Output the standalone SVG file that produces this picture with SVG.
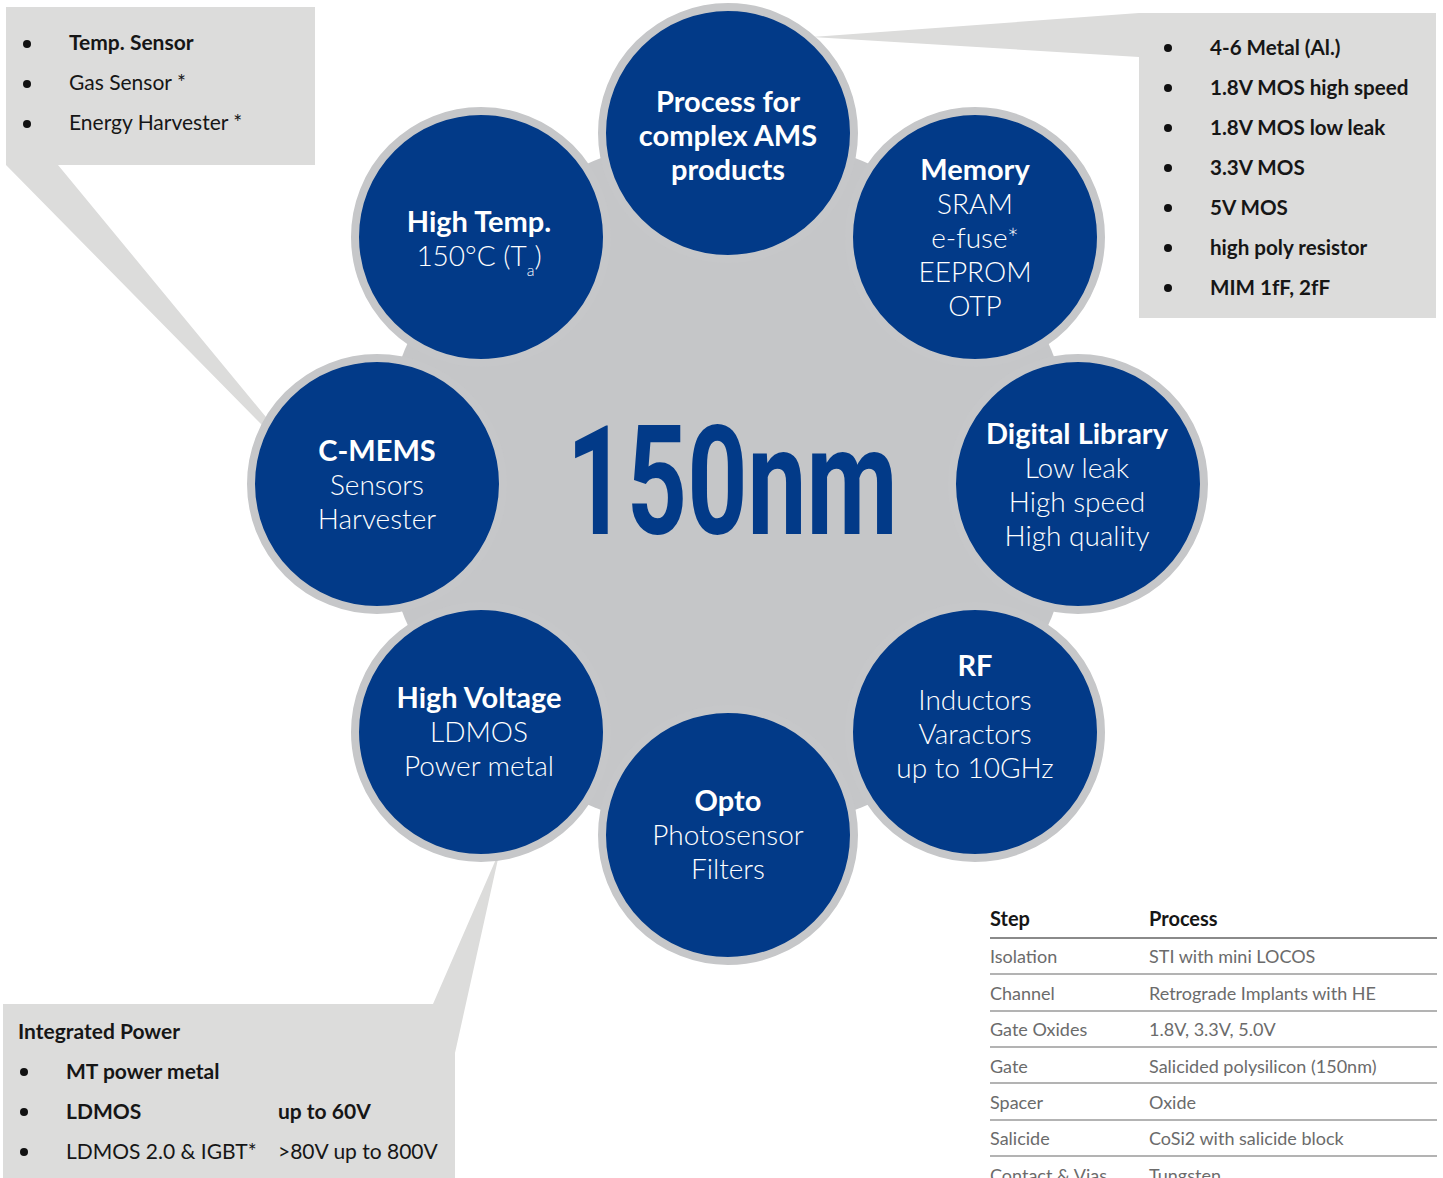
<svg xmlns="http://www.w3.org/2000/svg" width="1443" height="1178" viewBox="0 0 1443 1178">
<style>
.callout{fill:#dcdcdb}
.ring{fill:#023a88;stroke:#c6c7c9;stroke-width:8}
.t{font-family:Lato,"Noto Sans",sans-serif;fill:#fff;text-anchor:middle;font-size:28px}
.b{font-weight:700}
.t.b{font-size:29px}
.l{font-weight:300}
.c{font-family:Lato,"Noto Sans",sans-serif;font-size:21px;fill:#161616}
.cr{font-size:20.6px}
.dot{fill:#111}
.th{font-family:Lato,"Noto Sans",sans-serif;font-size:20px;font-weight:700;fill:#161616}
.td{font-family:Lato,"Noto Sans",sans-serif;font-size:18px;fill:#6b6b6b}
.hl{stroke:#8a8a8a;stroke-width:2}
.rl{stroke:#9a9a9a;stroke-width:1.5}
</style>

<g id="callout-sensors">
<polygon class="callout" points="6,7 315,7 315,165 58,165 275,428 262,425 6,165"/>
<circle class="dot" cx="27" cy="44" r="4"/>
<circle class="dot" cx="27" cy="84" r="4"/>
<circle class="dot" cx="27" cy="124" r="4"/>
<text class="c b" x="69" y="50">Temp. Sensor</text>
<text class="c" x="69" y="90">Gas Sensor *</text>
<text class="c" x="69" y="130">Energy Harvester *</text>
</g>

<g id="callout-process">
<polygon class="callout" points="812,37 1139,13 1436,13 1436,318 1139,318 1139,57"/>
<circle class="dot" cx="1168" cy="48" r="4"/>
<circle class="dot" cx="1168" cy="88" r="4"/>
<circle class="dot" cx="1168" cy="128" r="4"/>
<circle class="dot" cx="1168" cy="168" r="4"/>
<circle class="dot" cx="1168" cy="208" r="4"/>
<circle class="dot" cx="1168" cy="248" r="4"/>
<circle class="dot" cx="1168" cy="288" r="4"/>
<text class="c cr b" x="1210" y="55">4-6 Metal (Al.)</text>
<text class="c cr b" x="1210" y="95">1.8V MOS high speed</text>
<text class="c cr b" x="1210" y="135">1.8V MOS low leak</text>
<text class="c cr b" x="1210" y="175">3.3V MOS</text>
<text class="c cr b" x="1210" y="215">5V MOS</text>
<text class="c cr b" x="1210" y="255">high poly resistor</text>
<text class="c cr b" x="1210" y="295">MIM 1fF, 2fF</text>
</g>

<g id="callout-power">
<polygon class="callout" points="3,1004 433,1004 500,850 455,1053 455,1178 3,1178"/>
<text class="c b" x="18" y="1039">Integrated Power</text>
<circle class="dot" cx="24" cy="1072" r="4"/>
<circle class="dot" cx="24" cy="1112" r="4"/>
<circle class="dot" cx="24" cy="1152" r="4"/>
<text class="c b" x="66" y="1079">MT power metal</text>
<text class="c b" x="66" y="1119">LDMOS</text>
<text class="c b" x="278" y="1119">up to 60V</text>
<text class="c" x="66" y="1159">LDMOS 2.0 &amp; IGBT*</text>
<text class="c" x="278" y="1159">&gt;80V up to 800V</text>
</g>

<g id="hub">
<circle cx="728" cy="484" r="350" fill="#c5c6c8"/>
<text x="732" y="534" font-family="Roboto,'Liberation Sans',sans-serif" font-weight="700" font-size="153" fill="#023a88" text-anchor="middle" textLength="331" lengthAdjust="spacingAndGlyphs">150nm</text>
</g>

<g id="node-process">
<circle class="ring" cx="728" cy="133" r="126"/>
<text class="t b" x="728" y="112">Process for</text>
<text class="t b" x="728" y="146">complex AMS</text>
<text class="t b" x="728" y="180">products</text>
</g>

<g id="node-memory">
<circle class="ring" cx="975" cy="237" r="126"/>
<text class="t b" x="975" y="180">Memory</text>
<text class="t l" x="975" y="214">SRAM</text>
<text class="t l" x="975" y="248">e-fuse*</text>
<text class="t l" x="975" y="282">EEPROM</text>
<text class="t l" x="975" y="316">OTP</text>
</g>

<g id="node-digital">
<circle class="ring" cx="1078" cy="484" r="126"/>
<text class="t b" x="1077" y="444">Digital Library</text>
<text class="t l" x="1077" y="478">Low leak</text>
<text class="t l" x="1077" y="512">High speed</text>
<text class="t l" x="1077" y="546">High quality</text>
</g>

<g id="node-rf">
<circle class="ring" cx="975" cy="732" r="126"/>
<text class="t b" x="975" y="676">RF</text>
<text class="t l" x="975" y="710">Inductors</text>
<text class="t l" x="975" y="744">Varactors</text>
<text class="t l" x="975" y="778">up to 10GHz</text>
</g>

<g id="node-opto">
<circle class="ring" cx="728" cy="835" r="126"/>
<text class="t b" x="728" y="811">Opto</text>
<text class="t l" x="728" y="845">Photosensor</text>
<text class="t l" x="728" y="879">Filters</text>
</g>

<g id="node-hv">
<circle class="ring" cx="481" cy="732" r="126"/>
<text class="t b" x="479" y="708">High Voltage</text>
<text class="t l" x="479" y="742">LDMOS</text>
<text class="t l" x="479" y="776">Power metal</text>
</g>

<g id="node-cmems">
<circle class="ring" cx="377" cy="484" r="126"/>
<text class="t b" x="377" y="461">C-MEMS</text>
<text class="t l" x="377" y="495">Sensors</text>
<text class="t l" x="377" y="529">Harvester</text>
</g>

<g id="node-hightemp">
<circle class="ring" cx="481" cy="237" r="126"/>
<text class="t b" x="479" y="232">High Temp.</text>
<text class="t l" x="479" y="266">150°C (T<tspan font-size="16" dy="10">a</tspan><tspan dy="-10">)</tspan></text>
</g>

<g id="table">
<text class="th" x="990" y="926">Step</text>
<text class="th" x="1149" y="926">Process</text>
<line class="hl" x1="990" y1="938" x2="1437" y2="938"/>
<text class="td" x="990" y="963">Isolation</text>
<text class="td" x="1149" y="963">STI with mini LOCOS</text>
<line class="rl" x1="990" y1="974" x2="1437" y2="974"/>
<text class="td" x="990" y="1000">Channel</text>
<text class="td" x="1149" y="1000">Retrograde Implants with HE</text>
<line class="rl" x1="990" y1="1011" x2="1437" y2="1011"/>
<text class="td" x="990" y="1036">Gate Oxides</text>
<text class="td" x="1149" y="1036">1.8V, 3.3V, 5.0V</text>
<line class="rl" x1="990" y1="1047" x2="1437" y2="1047"/>
<text class="td" x="990" y="1073">Gate</text>
<text class="td" x="1149" y="1073">Salicided polysilicon (150nm)</text>
<line class="rl" x1="990" y1="1083" x2="1437" y2="1083"/>
<text class="td" x="990" y="1109">Spacer</text>
<text class="td" x="1149" y="1109">Oxide</text>
<line class="rl" x1="990" y1="1120" x2="1437" y2="1120"/>
<text class="td" x="990" y="1145">Salicide</text>
<text class="td" x="1149" y="1145">CoSi2 with salicide block</text>
<line class="rl" x1="990" y1="1156" x2="1437" y2="1156"/>
<text class="td" x="990" y="1182">Contact &amp; Vias</text>
<text class="td" x="1149" y="1182">Tungsten</text>
</g>
</svg>
